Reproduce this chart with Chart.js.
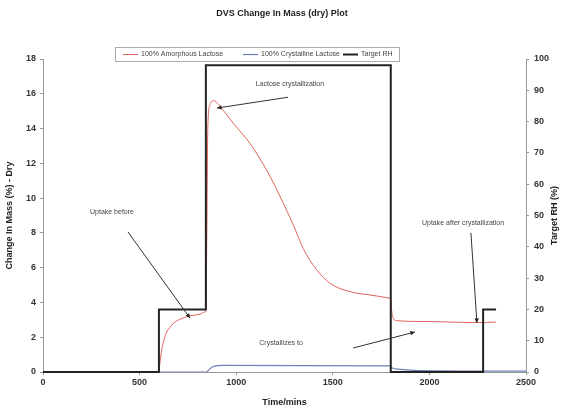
<!DOCTYPE html>
<html>
<head>
<meta charset="utf-8">
<script src="https://cdn.jsdelivr.net/npm/chart.js@4/dist/chart.umd.min.js"></script>
<style>
  html, body { margin: 0; padding: 0; background: #fff; }
  #wrap { width: 564px; height: 412px; position: relative; }
</style>
</head>
<body>
<div id="wrap"><canvas id="dvs"></canvas></div>
<script>
// time in minutes, mass change in % (dry)
const amTime  = [0, 600, 605, 615, 625, 640, 660, 675, 709, 757, 813, 838, 843, 848, 853, 865, 882, 899, 933, 985, 1071, 1158, 1244, 1296, 1347, 1417, 1486, 1589, 1692, 1796, 1800, 1805, 1815, 1831, 2003, 2245, 2345];
const amValue = [0, 0, 0.5, 1.3, 1.8, 2.3, 2.6, 2.8, 3.03, 3.22, 3.33, 3.45, 3.5, 8, 14, 15.4, 15.6, 15.5, 15.05, 14.3, 13.15, 11.6, 9.7, 8.45, 7.1, 5.87, 5.1, 4.62, 4.43, 4.24, 4.2, 3.5, 3.05, 2.95, 2.9, 2.84, 2.87];

const crTime  = [0, 845, 860, 880, 933, 1796, 1805, 1850, 1950, 2500];
const crValue = [0, 0, 0.15, 0.3, 0.38, 0.35, 0.25, 0.15, 0.08, 0.05];

// target RH steps (value holds from its time onward)
const rhTime  = [0, 600, 843, 1800, 2278, 2345];
const rhValue = [0, 20, 98, 0, 20, 20];

const xTicks = [0, 500, 1000, 1500, 2000, 2500];

const notes = [
  { text: 'Uptake before', at: [357, 9.2], from: [440, 8.05], to: [761, 3.1] },
  { text: 'Lactose crystallization', at: [1278, 16.56], from: [1268, 15.8], to: [901, 15.18] },
  { text: 'Crystallizes to', at: [1232, 1.67], from: [1605, 1.38], to: [1925, 2.3] },
  { text: 'Uptake after crystallization', at: [2174, 8.57], from: [2215, 8.0], to: [2246, 2.82] }
];

const pts = (xs, ys) => xs.map((x, i) => ({ x, y: ys[i] }));
const FONT = '"Liberation Sans", Arial, sans-serif';

const notesPlugin = {
  id: 'notes',
  afterDatasetsDraw(chart) {
    const { ctx, scales: { x, y } } = chart;
    ctx.save();
    ctx.font = '7px ' + FONT;
    ctx.strokeStyle = '#333';
    ctx.lineWidth = 1;
    ctx.textAlign = 'center';
    ctx.textBaseline = 'middle';
    notes.forEach(n => {
      ctx.fillStyle = '#444';
      ctx.fillText(n.text, x.getPixelForValue(n.at[0]), y.getPixelForValue(n.at[1]));
      const x0 = x.getPixelForValue(n.from[0]), y0 = y.getPixelForValue(n.from[1]);
      const x1 = x.getPixelForValue(n.to[0]), y1 = y.getPixelForValue(n.to[1]);
      ctx.beginPath();
      ctx.moveTo(x0, y0);
      ctx.lineTo(x1, y1);
      ctx.stroke();
      const a = Math.atan2(y1 - y0, x1 - x0);
      ctx.beginPath();
      ctx.moveTo(x1, y1);
      ctx.lineTo(x1 - 5 * Math.cos(a - 0.45), y1 - 5 * Math.sin(a - 0.45));
      ctx.lineTo(x1 - 5 * Math.cos(a + 0.45), y1 - 5 * Math.sin(a + 0.45));
      ctx.closePath();
      ctx.fillStyle = '#222';
      ctx.fill();
    });
    ctx.restore();
  },
  afterDraw(chart) {
    const ctx = chart.ctx;
    ctx.save();
    // title
    ctx.font = 'bold 9px ' + FONT;
    ctx.fillStyle = '#222';
    ctx.textAlign = 'center';
    ctx.textBaseline = 'middle';
    ctx.fillText('DVS Change In Mass (dry) Plot', 282, 14);
    // right axis title, reading bottom to top
    ctx.save();
    ctx.translate(555, chart.chartArea.top + (chart.chartArea.bottom - chart.chartArea.top) / 2);
    ctx.rotate(-Math.PI / 2);
    ctx.fillText('Target RH (%)', 0, 0);
    ctx.restore();
    // legend box
    ctx.fillStyle = '#fff';
    ctx.fillRect(115, 47, 284, 14);
    ctx.strokeStyle = '#aaa';
    ctx.lineWidth = 1;
    ctx.strokeRect(115.5, 47.5, 284, 14);
    const items = [
      { ds: 0, x: 123 },
      { ds: 1, x: 243 },
      { ds: 2, x: 343 }
    ];
    ctx.font = '7px ' + FONT;
    ctx.textAlign = 'left';
    items.forEach(it => {
      const ds = chart.data.datasets[it.ds];
      ctx.strokeStyle = ds.borderColor;
      ctx.lineWidth = ds.borderWidth;
      ctx.beginPath();
      ctx.moveTo(it.x, 54.5);
      ctx.lineTo(it.x + 15, 54.5);
      ctx.stroke();
      ctx.fillStyle = '#444';
      ctx.fillText(ds.label, it.x + 18, 54.5);
    });
    ctx.restore();
  }
};

const tickFont = { family: FONT, size: 9, weight: 'bold' };
const titleFont = { family: FONT, size: 9, weight: 'bold' };

new Chart(document.getElementById('dvs'), {
  type: 'line',
  data: {
    datasets: [
      {
        label: '100% Amorphous Lactose',
        data: pts(amTime, amValue),
        borderColor: '#e0645c',
        borderWidth: 1,
        pointRadius: 0,
        cubicInterpolationMode: 'monotone',
        yAxisID: 'y',
        order: 1
      },
      {
        label: '100% Crystalline Lactose',
        data: pts(crTime, crValue),
        borderColor: '#6c80b8',
        borderWidth: 1.2,
        pointRadius: 0,
        cubicInterpolationMode: 'monotone',
        yAxisID: 'y',
        order: 2
      },
      {
        label: 'Target RH',
        data: pts(rhTime, rhValue),
        borderColor: '#222',
        borderWidth: 2,
        pointRadius: 0,
        stepped: 'before',
        yAxisID: 'y2',
        clip: 2,
        order: 0
      }
    ]
  },
  options: {
    responsive: true,
    maintainAspectRatio: false,
    animation: false,
    layout: { padding: { top: 59, left: 0, right: 0, bottom: 0 } },
    plugins: {
      legend: { display: false },
      title: { display: false },
      tooltip: { enabled: false }
    },
    scales: {
      x: {
        type: 'linear',
        min: 0,
        max: 2500,
        afterBuildTicks: s => { s.ticks = xTicks.map(v => ({ value: v })); },
        ticks: { font: tickFont, color: '#333', padding: 2, maxRotation: 0, callback: v => String(v) },
        grid: { drawOnChartArea: false, tickLength: 3, color: '#999' },
        border: { color: '#999' },
        title: { display: true, text: 'Time/mins', font: titleFont, color: '#222', padding: { top: 2, bottom: 4 } },
        afterFit: s => { s.height = 40; }
      },
      y: {
        position: 'left',
        min: 0,
        max: 18,
        ticks: { stepSize: 2, font: tickFont, color: '#333', padding: 4 },
        grid: { drawOnChartArea: false, tickLength: 3, color: '#999' },
        border: { color: '#999' },
        title: { display: true, text: 'Change In Mass (%) - Dry', font: titleFont, color: '#222', padding: { top: 4, bottom: 2 } },
        afterFit: s => { s.width = 43; }
      },
      y2: {
        position: 'right',
        min: 0,
        max: 100,
        ticks: { stepSize: 10, font: tickFont, color: '#333', padding: 5 },
        grid: { drawOnChartArea: false, tickLength: 3, color: '#999' },
        border: { color: '#999' },
        afterFit: s => { s.width = 38; }
      }
    }
  },
  plugins: [notesPlugin]
});
</script>
</body>
</html>
